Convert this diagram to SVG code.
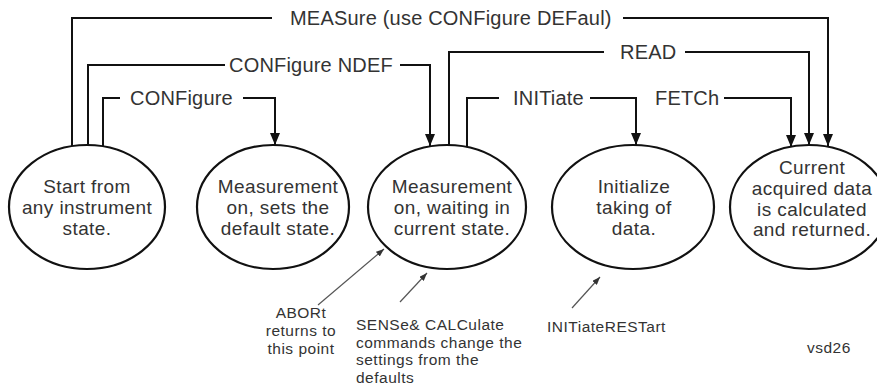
<svg xmlns="http://www.w3.org/2000/svg" width="877" height="392" viewBox="0 0 877 392">
<style>
.bg{fill:#ffffff}
.node ellipse{fill:#ffffff;stroke:#111;stroke-width:2.2}
.node text{font-family:"Liberation Sans",Arial,sans-serif;font-size:19px;letter-spacing:0.4px;fill:#333;text-anchor:middle}
.conn{fill:none;stroke:#111;stroke-width:2}
.lbl{font-family:"Liberation Sans",Arial,sans-serif;font-size:20px;letter-spacing:0.2px;fill:#333}
.note{fill:none;stroke:#555;stroke-width:1.2}
.ntext{font-family:"Liberation Sans",Arial,sans-serif;font-size:15.5px;letter-spacing:0.5px;fill:#333}
</style>
<defs>
<marker id="arr" viewBox="0 0 12 10" markerWidth="12" markerHeight="10" refX="12" refY="5" orient="auto" markerUnits="userSpaceOnUse">
<path d="M0,0 L12,5 L0,10 z" fill="#111"/>
</marker>
<marker id="sarr" viewBox="0 0 8 6" markerWidth="8" markerHeight="6" refX="8" refY="3" orient="auto" markerUnits="userSpaceOnUse">
<path d="M0,0 L8,3 L0,6 z" fill="#333"/>
</marker>
</defs>
<rect class="bg" x="0" y="0" width="877" height="392"/>

<g id="connectors">
<path class="conn" d="M72,146 V18 H272"/>
<path class="conn" d="M623,18 H828 V146" marker-end="url(#arr)"/>
<path class="conn" d="M88,145 V65 H225"/>
<path class="conn" d="M400,65 H430 V146" marker-end="url(#arr)"/>
<path class="conn" d="M103,146 V98 H120"/>
<path class="conn" d="M243,98 H275 V145" marker-end="url(#arr)"/>
<path class="conn" d="M449,145 V52 H604"/>
<path class="conn" d="M685,52 H809 V145" marker-end="url(#arr)"/>
<path class="conn" d="M467,148 V98 H499"/>
<path class="conn" d="M590,98 H636 V145" marker-end="url(#arr)"/>
<path class="conn" d="M724,98 H791 V147" marker-end="url(#arr)"/>
<text class="lbl" x="290" y="25">MEASure (use CONFigure DEFaul)</text>
<text class="lbl" x="229" y="72">CONFigure NDEF</text>
<text class="lbl" x="130" y="105">CONFigure</text>
<text class="lbl" x="620" y="59">READ</text>
<text class="lbl" x="513" y="105">INITiate</text>
<text class="lbl" x="655" y="105">FETCh</text>
<path class="note" d="M318,305 L384,249" marker-end="url(#sarr)"/>
<path class="note" d="M400,302 L427,273" marker-end="url(#sarr)"/>
<path class="note" d="M572,308 L600,277" marker-end="url(#sarr)"/>
</g>

<g id="start" class="node">
<ellipse cx="87" cy="207" rx="78" ry="62"/>
<text x="87" y="193">Start from</text>
<text x="87" y="214">any instrument</text>
<text x="87" y="235">state.</text>
</g>
<g id="default" class="node">
<ellipse cx="273" cy="207" rx="76" ry="62"/>
<text x="278" y="193">Measurement</text>
<text x="278" y="214">on, sets the</text>
<text x="278" y="235">default state.</text>
</g>
<g id="waiting" class="node">
<ellipse cx="447" cy="207" rx="79" ry="62"/>
<text x="452" y="193">Measurement</text>
<text x="452" y="214">on, waiting in</text>
<text x="452" y="235">current state.</text>
</g>
<g id="initialize" class="node">
<ellipse cx="633" cy="207" rx="81" ry="62"/>
<text x="634" y="193">Initialize</text>
<text x="634" y="214">taking of</text>
<text x="634" y="235">data.</text>
</g>
<g id="returned" class="node">
<ellipse cx="809" cy="207" rx="79" ry="62"/>
<text x="812" y="174">Current</text>
<text x="812" y="195">acquired data</text>
<text x="812" y="215.5">is calculated</text>
<text x="812" y="236">and returned.</text>
</g>

<g id="notes">
<text class="ntext" x="301" y="318" text-anchor="middle">ABORt</text>
<text class="ntext" x="301" y="336" text-anchor="middle">returns to</text>
<text class="ntext" x="301" y="353.5" text-anchor="middle">this point</text>
<text class="ntext" x="356" y="330">SENSe&amp; CALCulate</text>
<text class="ntext" x="356" y="347.5">commands change the</text>
<text class="ntext" x="356" y="365">settings from the</text>
<text class="ntext" x="356" y="382.5">defaults</text>
<text class="ntext" x="547" y="332">INITiateRESTart</text>
<text class="ntext" x="807" y="353" font-size="13px" letter-spacing="0.3px">vsd26</text>
</g>
</svg>
